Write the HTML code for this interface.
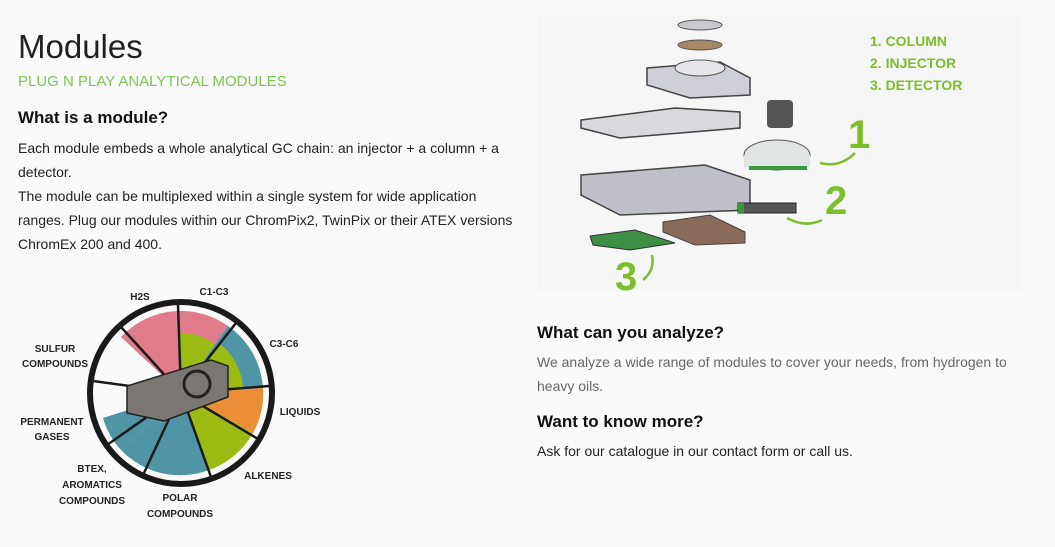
<!DOCTYPE html>
<html><head><meta charset="utf-8"><style>
body{margin:0;width:1055px;height:547px;background:#fafafa;font-family:"Liberation Sans",Arial,sans-serif;position:relative;overflow:hidden;color:#111}
.a{position:absolute}
h1{position:absolute;left:18px;top:28px;margin:0;font-size:33px;font-weight:400;color:#222}
.sub{left:18px;top:73px;font-size:15px;color:#7dc553}
h3{position:absolute;margin:0;font-size:17px;font-weight:700;color:#111}
p{position:absolute;margin:0;font-size:14px;line-height:24px;color:#222}
.g{fill:#7cbf2a;font-family:"Liberation Sans Narrow","Liberation Sans",sans-serif;font-weight:700}
</style></head><body>
<h1>Modules</h1>
<div class="a sub">PLUG N PLAY ANALYTICAL MODULES</div>
<h3 style="left:18px;top:108px">What is a module?</h3>
<p style="left:18px;top:136px;width:500px">Each module embeds a whole analytical GC chain: an injector + a column + a detector.<br>The module can be multiplexed within a single system for wide application ranges. Plug our modules within our ChromPix2, TwinPix or their ATEX versions ChromEx 200 and 400.</p>

<svg class="a" style="left:0;top:280px" width="340" height="260" viewBox="0 280 340 260">
<g transform="translate(181,393)">
<path d="M0,0 L-60,-56 A82,82 0 0 1 -5,-82 Z" fill="#e07b8c"/>
<path d="M0,0 L-78,-10 A82,82 0 0 1 -60,-56 Z" fill="#e07b8c" opacity="0"/>
<path d="M0,0 L-5,-82 A82,82 0 0 1 47,-67 Z" fill="#e07b8c"/>
<path d="M0,0 L-2,-60 A60,60 0 0 1 34,-49 Z" fill="#9bbb13"/>
<path d="M0,0 L47,-67 A82,82 0 0 1 82,-5 Z" fill="#4f95a6"/>
<path d="M0,0 L38,-50 A62,62 0 0 1 62,-5 Z" fill="#9bbb13"/>
<path d="M0,0 L82,-5 A82,82 0 0 1 72,40 Z" fill="#ea8f35"/>
<path d="M0,0 L72,40 A82,82 0 0 1 28,77 Z" fill="#9bbb13"/>
<path d="M0,0 L28,77 A82,82 0 0 1 -60,57 Z" fill="#4f95a6"/>
<path d="M0,0 L-60,57 A82,82 0 0 1 -78,25 Z" fill="#4f95a6"/>
<circle r="91" fill="none" stroke="#1a1a1a" stroke-width="6"/>
<g stroke="#1a1a1a" stroke-width="2.5">
<line x1="0" y1="0" x2="-3" y2="-88"/><line x1="0" y1="0" x2="55" y2="-70"/>
<line x1="0" y1="0" x2="88" y2="-7"/><line x1="0" y1="0" x2="77" y2="46"/>
<line x1="0" y1="0" x2="30" y2="84"/><line x1="0" y1="0" x2="-37" y2="80"/>
<line x1="0" y1="0" x2="-74" y2="52"/><line x1="0" y1="0" x2="-88" y2="-12"/>
<line x1="0" y1="0" x2="-60" y2="-66"/></g>
<polygon points="-54,-7 30,-33 47,-27 47,4 -17,28 -54,20" fill="#7a7672" stroke="#222" stroke-width="1.5"/>
<circle cx="16" cy="-9" r="13" fill="none" stroke="#222" stroke-width="3"/>
</g>
<g font-family="Liberation Sans,sans-serif" font-weight="700" font-size="10" fill="#222" text-anchor="middle">
<text x="140" y="300">H2S</text><text x="214" y="295">C1-C3</text><text x="284" y="347">C3-C6</text>
<text x="55" y="352">SULFUR</text><text x="55" y="367">COMPOUNDS</text>
<text x="300" y="415">LIQUIDS</text>
<text x="52" y="425">PERMANENT</text><text x="52" y="440">GASES</text>
<text x="268" y="479">ALKENES</text>
<text x="92" y="472">BTEX,</text><text x="92" y="488">AROMATICS</text><text x="92" y="504">COMPOUNDS</text>
<text x="180" y="501">POLAR</text><text x="180" y="517">COMPOUNDS</text>
</g></svg>

<svg class="a" style="left:535px;top:0" width="500" height="300">
<rect x="2" y="15" width="484" height="275" fill="#f6f6f6"/>
<ellipse cx="165" cy="25" rx="22" ry="5" fill="#c9c9cf" stroke="#555"/>
<ellipse cx="165" cy="45" rx="22" ry="5" fill="#a88765" stroke="#555"/>
<polygon points="112,68 185,62 215,78 215,95 155,98 112,85" fill="#cfcfd8" stroke="#444" stroke-width="1.5"/>
<ellipse cx="165" cy="68" rx="25" ry="8" fill="#e6e6ea" stroke="#555"/>
<polygon points="46,120 140,108 205,112 205,128 85,138 46,128" fill="#d8d8dd" stroke="#444" stroke-width="1.5"/>
<rect x="232" y="100" width="26" height="28" fill="#555" rx="4"/>
<ellipse cx="242" cy="155" rx="33" ry="15" fill="#e0e4e2" stroke="#555"/>
<rect x="209" y="155" width="66" height="12" fill="#e0e4e2"/><rect x="214" y="166" width="58" height="4" fill="#3a9a40"/>
<polygon points="46,175 170,165 215,180 215,210 85,215 46,195" fill="#bfbfc8" stroke="#444" stroke-width="1.5"/>
<rect x="203" y="203" width="58" height="10" fill="#555" stroke="#222"/><rect x="203" y="203" width="6" height="10" fill="#3a9a40"/>
<polygon points="128,222 175,215 210,232 210,243 160,245 128,232" fill="#8a6a58" stroke="#444"/>
<polygon points="55,236 100,230 140,243 95,250 58,245" fill="#3d8f46" stroke="#333"/>
<text class="g" x="335" y="46" font-size="14">1. COLUMN</text>
<text class="g" x="335" y="68" font-size="14">2. INJECTOR</text>
<text class="g" x="335" y="90" font-size="14">3. DETECTOR</text>
<text class="g" x="313" y="148" font-size="40">1</text>
<text class="g" x="290" y="214" font-size="40">2</text>
<text class="g" x="80" y="290" font-size="40">3</text>
<g fill="none" stroke="#7cbf2a" stroke-width="2.5"><path d="M320,153 Q305,168 285,163"/><path d="M287,220 Q270,228 252,218"/><path d="M108,280 Q120,270 117,255"/></g>
</svg>

<h3 style="left:537px;top:323px">What can you analyze?</h3>
<p style="left:537px;top:350px;width:500px;color:#666">We analyze a wide range of modules to cover your needs, from hydrogen to heavy oils.</p>
<h3 style="left:537px;top:412px">Want to know more?</h3>
<p style="left:537px;top:439px;width:500px">Ask for our catalogue in our contact form or call us.</p>
</body></html>
